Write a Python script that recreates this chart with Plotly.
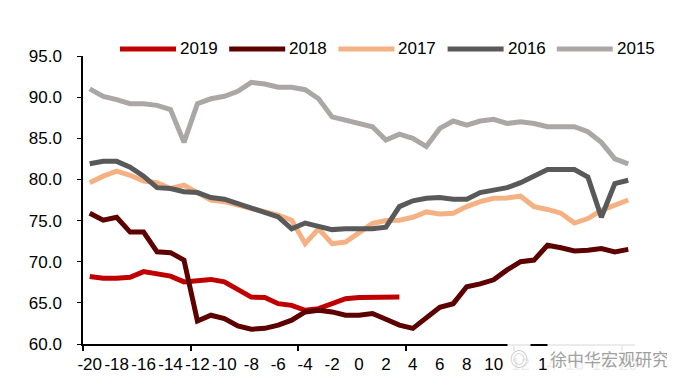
import plotly.graph_objects as go

weeks = list(range(-20, 21))
tick_labels = [str(v) for v in range(-20, 21, 2)]

s2015 = [91.0, 90.1, 89.7, 89.2, 89.2, 89.0, 88.5, 84.5, 89.2, 89.8, 90.1, 90.7, 91.8, 91.6, 91.2, 91.2, 90.9, 89.8, 87.6, 87.2, 86.9,
         86.4, 84.8, 85.5, 85.0, 84.0, 86.2, 87.1, 86.6, 87.1, 87.3, 86.8, 87.0, 86.8, 86.4, 86.4, 86.4, 85.8, 84.5, 82.5, 81.9]
s2016 = [81.9, 82.2, 82.2, 81.5, 80.4, 79.0, 78.9, 78.5, 78.4, 77.8, 77.6, 77.1, 76.6, 76.05, 75.45, 74.0, 74.7, 74.3, 73.9, 74.0, 74.0,
         74.0, 74.2, 76.7, 77.4, 77.7, 77.8, 77.6, 77.6, 78.4, 78.7, 79.0, 79.6, 80.4, 81.2, 81.2, 81.2, 80.3, 75.4, 79.5, 79.9]
s2017 = [79.6, 80.4, 81.0, 80.5, 79.8, 79.6, 78.9, 79.3, 78.4, 77.5, 77.3, 76.9, 76.5, 76.1, 75.65, 75.05, 72.2, 74.0, 72.2, 72.4, 73.5,
         74.65, 75.0, 75.05, 75.4, 76.05, 75.8, 75.9, 76.7, 77.3, 77.7, 77.75, 77.96, 76.7, 76.35, 75.9, 74.7, 75.25, 76.25, 76.9, 77.5]
s2018 = [75.9, 75.05, 75.4, 73.6, 73.6, 71.2, 71.1, 70.2, 62.8, 63.5, 63.1, 62.2, 61.8, 61.9, 62.3, 62.9, 63.9, 64.1, 63.9, 63.5, 63.5,
         63.7, 63.0, 62.3, 61.9, 63.1, 64.45, 64.9, 66.95, 67.3, 67.8, 69.0, 70.0, 70.2, 72.0, 71.7, 71.3, 71.4, 71.6, 71.2, 71.5]
s2019 = [68.2, 68.0, 68.0, 68.1, 68.8, 68.5, 68.25, 67.55, 67.7, 67.85, 67.55, 66.6, 65.7, 65.65, 64.9, 64.7, 64.1, 64.3, 64.9, 65.5,
         65.65, 65.7, 65.6, 65.7]

series = [
    ("2019", s2019, "#C00000"),
    ("2018", s2018, "#5C0000"),
    ("2017", s2017, "#F4B183"),
    ("2016", s2016, "#595959"),
    ("2015", s2015, "#ABA7A7"),
]

FONT = "Liberation Sans, Arial, sans-serif"

# figure geometry (page body adds an 8px offset)
W, H = 667, 383
ML, MR, MT, MB = 75, 40, 48, 47
PW, PH = W - ML - MR, H - MT - MB

def px2paper_x(px):
    return (px - ML) / PW

def px2paper_y(py):
    return (H - MB - py) / PH

fig = go.Figure()
for name, vals, color in series:
    fig.add_trace(go.Scatter(
        x=weeks[:len(vals)], y=vals, name=name, mode="lines",
        line=dict(color=color, width=5),
    ))

# legend row drawn as line keys + text
LEG_X0, LEG_STEP, LEG_KEY, LEG_Y = 112, 109.2, 56, 41
for i, (name, vals, color) in enumerate(series):
    x0 = LEG_X0 + i * LEG_STEP
    fig.add_shape(type="line", xref="paper", yref="paper",
                  x0=px2paper_x(x0), x1=px2paper_x(x0 + LEG_KEY),
                  y0=px2paper_y(LEG_Y), y1=px2paper_y(LEG_Y),
                  line=dict(color=color, width=5))
    fig.add_annotation(xref="paper", yref="paper",
                       x=px2paper_x(x0 + LEG_KEY + 2), y=px2paper_y(LEG_Y),
                       xanchor="left", yanchor="middle", showarrow=False,
                       text=name, font=dict(family=FONT, size=17, color="#000000"))

fig.update_layout(
    width=W, height=H,
    margin=dict(l=ML, r=MR, t=MT, b=MB),
    paper_bgcolor="white", plot_bgcolor="white",
    font=dict(family=FONT, size=17, color="#000000"),
    showlegend=False,
    xaxis=dict(
        range=[-20.5, 20.5],
        tickmode="array", tickvals=list(range(-20, 21, 2)), ticktext=tick_labels,
        ticks="", showgrid=False, zeroline=False,
        showline=True, linecolor="#000000", linewidth=1.5,
        tickfont=dict(family=FONT, size=17, color="#000000"),
        ticklabelstandoff=4,
        minor=dict(tickmode="array", tickvals=[-20.5, -12.5, -4.5, 3.5, 11.5, 19.5],
                   ticks="outside", ticklen=5, tickcolor="#000000", tickwidth=1.5, showgrid=False),
    ),
    yaxis=dict(
        range=[60, 95], tickmode="linear", tick0=60, dtick=5, tickformat=".1f",
        ticks="outside", ticklen=4, tickcolor="#000000", tickwidth=1,
        showgrid=False, zeroline=False,
        showline=True, linecolor="#000000", linewidth=1.5,
        tickfont=dict(family=FONT, size=17, color="#000000"),
        ticklabelstandoff=12,
    ),
)

# watermark
fig.add_annotation(
    xref="paper", yref="paper", x=px2paper_x(511), y=px2paper_y(350), xanchor="center", yanchor="middle",
    text="◎", showarrow=False,
    font=dict(family="Noto Sans CJK SC", size=18, color="#c4c4c4"),
    bgcolor="rgba(255,255,255,0.92)", borderpad=2,
)
fig.add_annotation(
    xref="paper", yref="paper", x=px2paper_x(539), y=px2paper_y(350), xanchor="left", yanchor="middle",
    text="徐中华宏观研究", showarrow=False,
    font=dict(family="Noto Sans CJK SC", size=17, color="#a0a0a0"),
    bgcolor="rgba(255,255,255,0.92)", borderpad=2,
)

fig.write_html("out.html")
